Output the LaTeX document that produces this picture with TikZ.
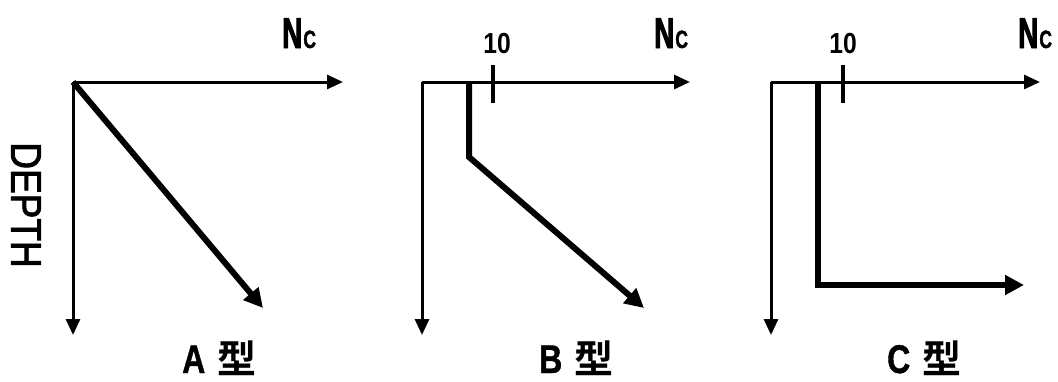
\documentclass[tikz,border=0pt]{standalone}
\usepackage{fontspec}
\setmainfont{Liberation Sans}
\newfontfamily\nfont{Liberation Sans Bold}[FakeStretch=0.65,FakeBold=2]
\newfontfamily\cfont{Liberation Sans Bold}[FakeStretch=0.7,FakeBold=1.5]
\newfontfamily\narrowfont{Liberation Sans Bold}[FakeStretch=0.8,FakeBold=1]
\newfontfamily\tenfont{Liberation Sans}[FakeStretch=0.85]
\newfontfamily\depthfont{Liberation Sans}[FakeStretch=0.86,FakeBold=2]
\newfontfamily\cjk{Noto Sans CJK JP Bold}
\usetikzlibrary{arrows.meta}
\tikzset{
  axis/.style={line width=3pt,-{Triangle[length=16pt,width=14pt]}},
  curve/.style={line width=6pt,line join=miter,-{Triangle[length=19pt,width=19pt]}},
  tick/.style={line width=4.5pt},
  nclabel/.style={anchor=base west,inner sep=0pt,font=\nfont\fontsize{43}{43}\selectfont},
  tenlabel/.style={anchor=base,inner sep=0pt,font=\tenfont\bfseries\fontsize{29}{29}\selectfont},
  typelabel/.style={anchor=base west,inner sep=0pt},
}
\newcommand{\ncsym}{N\hspace{1pt}{\cfont\fontsize{25}{25}\selectfont C}}
\newcommand{\typetext}[1]{{\narrowfont\fontsize{40}{40}\selectfont #1}\hspace{12pt}{\cjk\fontsize{39}{39}\selectfont 型}}
\begin{document}
\begin{tikzpicture}[x=1pt,y=-1pt]
\useasboundingbox (0,0) rectangle (1058,381);
% ---------- Panel A ----------
\coordinate (OA) at (73,82);
\coordinate (XA) at (343,82);
\coordinate (YA) at (73,335);
\coordinate (EA) at (263,308);
\draw[axis] (OA) -- (XA);
\draw[axis] (OA) -- (YA);
\draw[curve] (OA) -- (EA);
\node[nclabel] (ncA) at (282,48) {\ncsym};
\node[rotate=-90,inner sep=0pt,font=\depthfont\fontsize{43}{43}\selectfont] (depth) at (26,205) {DEPTH};
\node[typelabel] (tA) at (182,373) {\typetext{A}};
% ---------- Panel B ----------
\coordinate (OB) at (422,82);
\coordinate (XB) at (690,82);
\coordinate (YB) at (422,335);
\coordinate (B1) at (469,82);
\coordinate (B2) at (469,157);
\coordinate (EB) at (644,308);
\coordinate (TB1) at (493,65);
\coordinate (TB2) at (493,103);
\draw[axis] (OB) -- (XB);
\draw[axis] (OB) -- (YB);
\draw[curve] (B1) -- (B2) -- (EB);
\draw[tick] (TB1) -- (TB2);
\node[tenlabel] (tenB) at (497,53) {10};
\node[nclabel] (ncB) at (654,48) {\ncsym};
\node[typelabel] (tB) at (539,373) {\typetext{B}};
% ---------- Panel C ----------
\coordinate (OC) at (771,82);
\coordinate (XC) at (1040,82);
\coordinate (YC) at (771,335);
\coordinate (C1) at (818,82);
\coordinate (C2) at (818,285);
\coordinate (EC) at (1024,285);
\coordinate (TC1) at (843,65);
\coordinate (TC2) at (843,103);
\draw[axis] (OC) -- (XC);
\draw[axis] (OC) -- (YC);
\draw[curve] (C1) -- (C2) -- (EC);
\draw[tick] (TC1) -- (TC2);
\node[tenlabel] (tenC) at (843,53) {10};
\node[nclabel] (ncC) at (1018,48) {\ncsym};
\node[typelabel] (tC) at (887,373) {\typetext{C}};
\end{tikzpicture}
\end{document}
